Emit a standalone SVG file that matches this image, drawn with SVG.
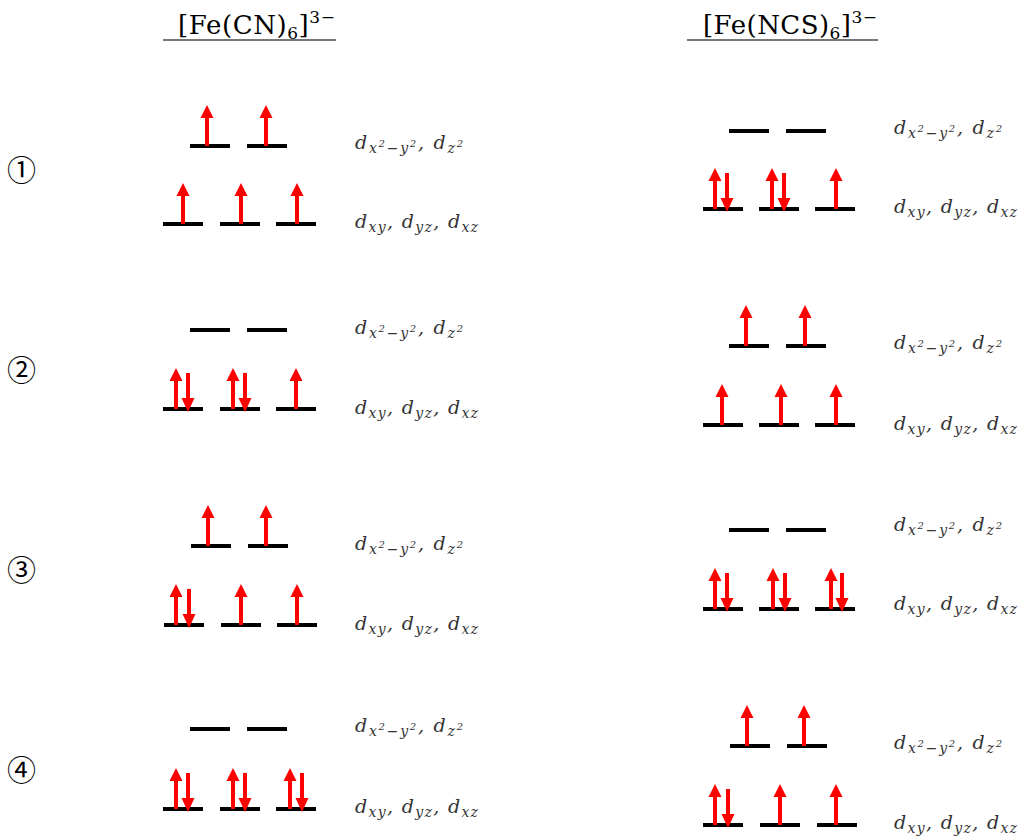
<svg xmlns="http://www.w3.org/2000/svg" xmlns:xlink="http://www.w3.org/1999/xlink" width="1021" height="838" viewBox="0 0 1021 838">
<style>
.title{font-family:"DejaVu Serif","Liberation Serif",serif;font-size:26px;fill:#000}
.tsub{font-size:17px}
.lbl{font-family:"DejaVu Serif","Liberation Serif",serif;font-style:italic;font-size:19px;fill:#333}
.s{font-size:14px}
.ss{font-size:10px}
.num{font-family:"Noto Sans CJK KR","DejaVu Sans",sans-serif;font-size:29px;fill:#000}
.rule{stroke:#777;stroke-width:2}
</style>
<defs>
<rect id="lv" x="0" y="-2" width="40" height="4" fill="#000"/>
<g id="up" fill="#ff0000"><rect x="-2" y="-29" width="4" height="29"/><polygon points="-6.5,-28 0,-41 6.5,-28"/></g>
<g id="dn" fill="#ff0000"><rect x="-2" y="-36" width="4" height="26"/><polygon points="-6.5,-11 0,3 6.5,-11"/></g>
</defs>
<rect width="1021" height="838" fill="#fff"/>

<g id="title-left">
<text class="title" x="178" y="34" textLength="157" lengthAdjust="spacing">[Fe(CN)<tspan class="tsub" dy="5">6</tspan><tspan dy="-5">]</tspan><tspan class="tsub" dy="-11">3−</tspan></text>
<line class="rule" x1="163" y1="40" x2="336" y2="40"/>
</g>
<g id="title-right">
<text class="title" x="703" y="34" textLength="174" lengthAdjust="spacing">[Fe(NCS)<tspan class="tsub" dy="5">6</tspan><tspan dy="-5">]</tspan><tspan class="tsub" dy="-11">3−</tspan></text>
<line class="rule" x1="687" y1="40" x2="878" y2="40"/>
</g>

<g id="numbers">
<text class="num" x="7" y="181">①</text>
<text class="num" x="7" y="381">②</text>
<text class="num" x="7" y="581">③</text>
<text class="num" x="7" y="781">④</text>
</g>

<!-- Left panel -->
<g id="L1">
<use href="#lv" x="190" y="146"/><use href="#lv" x="247" y="146"/>
<use href="#lv" x="163" y="224"/><use href="#lv" x="220" y="224"/><use href="#lv" x="276" y="224"/>
<use href="#up" x="207" y="146"/><use href="#up" x="266" y="146"/>
<use href="#up" x="183" y="224"/><use href="#up" x="241" y="224"/><use href="#up" x="297" y="224"/>
</g>
<g id="L2">
<use href="#lv" x="190" y="330"/><use href="#lv" x="247" y="330"/>
<use href="#lv" x="163" y="409"/><use href="#lv" x="220" y="409"/><use href="#lv" x="276" y="409"/>
<use href="#up" x="176" y="409"/><use href="#dn" x="188" y="409"/>
<use href="#up" x="233" y="409"/><use href="#dn" x="245" y="409"/>
<use href="#up" x="296" y="409"/>
</g>
<g id="L3">
<use href="#lv" x="191" y="546"/><use href="#lv" x="248" y="546"/>
<use href="#lv" x="164" y="625"/><use href="#lv" x="221" y="625"/><use href="#lv" x="277" y="625"/>
<use href="#up" x="208" y="546"/><use href="#up" x="266" y="546"/>
<use href="#up" x="176" y="625"/><use href="#dn" x="189" y="625"/>
<use href="#up" x="241" y="625"/><use href="#up" x="297" y="625"/>
</g>
<g id="L4">
<use href="#lv" x="190" y="729"/><use href="#lv" x="247" y="729"/>
<use href="#lv" x="163" y="809"/><use href="#lv" x="220" y="809"/><use href="#lv" x="276" y="809"/>
<use href="#up" x="176" y="809"/><use href="#dn" x="188" y="809"/>
<use href="#up" x="233" y="809"/><use href="#dn" x="245" y="809"/>
<use href="#up" x="290" y="809"/><use href="#dn" x="302" y="809"/>
</g>

<!-- Right panel -->
<g id="R1">
<use href="#lv" x="729" y="131"/><use href="#lv" x="786" y="131"/>
<use href="#lv" x="703" y="209"/><use href="#lv" x="759" y="209"/><use href="#lv" x="815" y="209"/>
<use href="#up" x="715" y="209"/><use href="#dn" x="727" y="209"/>
<use href="#up" x="772" y="209"/><use href="#dn" x="784" y="209"/>
<use href="#up" x="836" y="209"/>
</g>
<g id="R2">
<use href="#lv" x="729" y="346"/><use href="#lv" x="786" y="346"/>
<use href="#lv" x="703" y="425"/><use href="#lv" x="759" y="425"/><use href="#lv" x="815" y="425"/>
<use href="#up" x="746" y="346"/><use href="#up" x="805" y="346"/>
<use href="#up" x="722" y="425"/><use href="#up" x="781" y="425"/><use href="#up" x="836" y="425"/>
</g>
<g id="R3">
<use href="#lv" x="729" y="530"/><use href="#lv" x="786" y="530"/>
<use href="#lv" x="703" y="609"/><use href="#lv" x="759" y="609"/><use href="#lv" x="815" y="609"/>
<use href="#up" x="715" y="609"/><use href="#dn" x="727" y="609"/>
<use href="#up" x="773" y="609"/><use href="#dn" x="785" y="609"/>
<use href="#up" x="831" y="609"/><use href="#dn" x="842" y="609"/>
</g>
<g id="R4">
<use href="#lv" x="730" y="746"/><use href="#lv" x="787" y="746"/>
<use href="#lv" x="703" y="825"/><use href="#lv" x="760" y="825"/><use href="#lv" x="817" y="825"/>
<use href="#up" x="747" y="746"/><use href="#up" x="804" y="746"/>
<use href="#up" x="715" y="825"/><use href="#dn" x="728" y="825"/>
<use href="#up" x="780" y="825"/><use href="#up" x="836" y="825"/>
</g>

<!-- Labels -->
<g id="labels">
<text class="lbl" x="355" y="149" textLength="108" lengthAdjust="spacing">d<tspan class="s" dy="4">x</tspan><tspan class="ss" dy="-6">2</tspan><tspan class="s" dy="6">−y</tspan><tspan class="ss" dy="-6">2</tspan><tspan dy="2">, d</tspan><tspan class="s" dy="4">z</tspan><tspan class="ss" dy="-6">2</tspan></text>
<text class="lbl" x="355" y="228" textLength="123" lengthAdjust="spacing">d<tspan class="s" dy="4">xy</tspan><tspan dy="-4">, d</tspan><tspan class="s" dy="4">yz</tspan><tspan dy="-4">, d</tspan><tspan class="s" dy="4">xz</tspan></text>

<text class="lbl" x="355" y="334" textLength="108" lengthAdjust="spacing">d<tspan class="s" dy="4">x</tspan><tspan class="ss" dy="-6">2</tspan><tspan class="s" dy="6">−y</tspan><tspan class="ss" dy="-6">2</tspan><tspan dy="2">, d</tspan><tspan class="s" dy="4">z</tspan><tspan class="ss" dy="-6">2</tspan></text>
<text class="lbl" x="355" y="414" textLength="123" lengthAdjust="spacing">d<tspan class="s" dy="4">xy</tspan><tspan dy="-4">, d</tspan><tspan class="s" dy="4">yz</tspan><tspan dy="-4">, d</tspan><tspan class="s" dy="4">xz</tspan></text>

<text class="lbl" x="355" y="550" textLength="108" lengthAdjust="spacing">d<tspan class="s" dy="4">x</tspan><tspan class="ss" dy="-6">2</tspan><tspan class="s" dy="6">−y</tspan><tspan class="ss" dy="-6">2</tspan><tspan dy="2">, d</tspan><tspan class="s" dy="4">z</tspan><tspan class="ss" dy="-6">2</tspan></text>
<text class="lbl" x="355" y="630" textLength="123" lengthAdjust="spacing">d<tspan class="s" dy="4">xy</tspan><tspan dy="-4">, d</tspan><tspan class="s" dy="4">yz</tspan><tspan dy="-4">, d</tspan><tspan class="s" dy="4">xz</tspan></text>

<text class="lbl" x="355" y="732" textLength="108" lengthAdjust="spacing">d<tspan class="s" dy="4">x</tspan><tspan class="ss" dy="-6">2</tspan><tspan class="s" dy="6">−y</tspan><tspan class="ss" dy="-6">2</tspan><tspan dy="2">, d</tspan><tspan class="s" dy="4">z</tspan><tspan class="ss" dy="-6">2</tspan></text>
<text class="lbl" x="355" y="813" textLength="123" lengthAdjust="spacing">d<tspan class="s" dy="4">xy</tspan><tspan dy="-4">, d</tspan><tspan class="s" dy="4">yz</tspan><tspan dy="-4">, d</tspan><tspan class="s" dy="4">xz</tspan></text>

<text class="lbl" x="894" y="134" textLength="108" lengthAdjust="spacing">d<tspan class="s" dy="4">x</tspan><tspan class="ss" dy="-6">2</tspan><tspan class="s" dy="6">−y</tspan><tspan class="ss" dy="-6">2</tspan><tspan dy="2">, d</tspan><tspan class="s" dy="4">z</tspan><tspan class="ss" dy="-6">2</tspan></text>
<text class="lbl" x="894" y="213" textLength="123" lengthAdjust="spacing">d<tspan class="s" dy="4">xy</tspan><tspan dy="-4">, d</tspan><tspan class="s" dy="4">yz</tspan><tspan dy="-4">, d</tspan><tspan class="s" dy="4">xz</tspan></text>

<text class="lbl" x="894" y="349" textLength="108" lengthAdjust="spacing">d<tspan class="s" dy="4">x</tspan><tspan class="ss" dy="-6">2</tspan><tspan class="s" dy="6">−y</tspan><tspan class="ss" dy="-6">2</tspan><tspan dy="2">, d</tspan><tspan class="s" dy="4">z</tspan><tspan class="ss" dy="-6">2</tspan></text>
<text class="lbl" x="894" y="430" textLength="123" lengthAdjust="spacing">d<tspan class="s" dy="4">xy</tspan><tspan dy="-4">, d</tspan><tspan class="s" dy="4">yz</tspan><tspan dy="-4">, d</tspan><tspan class="s" dy="4">xz</tspan></text>

<text class="lbl" x="894" y="531" textLength="108" lengthAdjust="spacing">d<tspan class="s" dy="4">x</tspan><tspan class="ss" dy="-6">2</tspan><tspan class="s" dy="6">−y</tspan><tspan class="ss" dy="-6">2</tspan><tspan dy="2">, d</tspan><tspan class="s" dy="4">z</tspan><tspan class="ss" dy="-6">2</tspan></text>
<text class="lbl" x="894" y="610" textLength="123" lengthAdjust="spacing">d<tspan class="s" dy="4">xy</tspan><tspan dy="-4">, d</tspan><tspan class="s" dy="4">yz</tspan><tspan dy="-4">, d</tspan><tspan class="s" dy="4">xz</tspan></text>

<text class="lbl" x="894" y="749" textLength="108" lengthAdjust="spacing">d<tspan class="s" dy="4">x</tspan><tspan class="ss" dy="-6">2</tspan><tspan class="s" dy="6">−y</tspan><tspan class="ss" dy="-6">2</tspan><tspan dy="2">, d</tspan><tspan class="s" dy="4">z</tspan><tspan class="ss" dy="-6">2</tspan></text>
<text class="lbl" x="894" y="829" textLength="123" lengthAdjust="spacing">d<tspan class="s" dy="4">xy</tspan><tspan dy="-4">, d</tspan><tspan class="s" dy="4">yz</tspan><tspan dy="-4">, d</tspan><tspan class="s" dy="4">xz</tspan></text>
</g>
</svg>
